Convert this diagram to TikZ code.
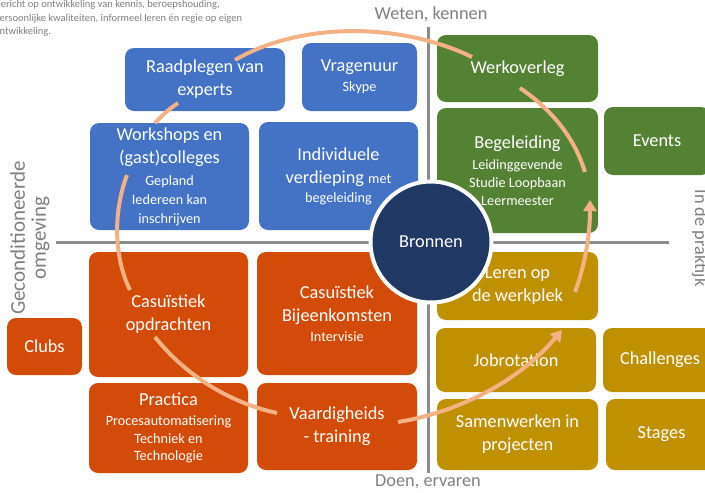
\documentclass[tikz,border=0pt]{standalone}
\usepackage{fontspec}
\setmainfont{Carlito}
\usetikzlibrary{arrows.meta}
\definecolor{cblue}{HTML}{4472C4}
\definecolor{cgreen}{HTML}{548235}
\definecolor{cgold}{HTML}{BF9000}
\definecolor{corange}{HTML}{D24B08}
\definecolor{cnavy}{HTML}{203864}
\definecolor{cpeach}{HTML}{F4B183}
\definecolor{cgray}{HTML}{7F7F7F}
\definecolor{caxis}{HTML}{8C8C8C}
\newcommand\mainf{\fontsize{18.3}{23}\selectfont}
\newcommand\subf{\fontsize{14.2}{18}\selectfont}
\begin{document}
\begin{tikzpicture}[x=1pt,y=-1pt,
  bx/.style={rounded corners=9pt, text=white, align=center, inner sep=0pt, font=\mainf},
  sz/.style 2 args={minimum width=#1pt, minimum height=#2pt},
  flow/.style={draw=cpeach, line width=4pt},
  tip/.style={-{Triangle[length=11pt,width=13pt]}},
  axl/.style={draw=caxis, line width=3pt},
  axt/.style={text=cgray, font=\mainf, inner sep=0pt}]
\useasboundingbox (0,0) rectangle (705,493);
% axes
\coordinate (hl) at (56,242); \coordinate (hr) at (669,242);
\coordinate (vt) at (428,27); \coordinate (vb) at (428,473);
\draw[axl] (hl) -- (hr);
\draw[axl] (vt) -- (vb);
% blue
\node[bx,fill=cblue,sz={160}{63}] (raad) at (205,79.5) {Raadplegen van\\experts};
\node[bx,fill=cblue,sz={115}{68}] (vrag) at (359.5,77) {Vragenuur\\[-3pt]{\subf Skype}};
\node[bx,fill=cblue,sz={159}{107}] (work) at (169.5,176.5) {Workshops en\\(gast)colleges\\[-1pt]{\subf Gepland}\\[-4pt]{\subf Iedereen kan}\\[-4pt]{\subf inschrijven}};
\node[bx,fill=cblue,sz={159}{108}] (indiv) at (338.5,176) {Individuele\\verdieping {\subf met}\\[-4pt]{\subf begeleiding}};
% green
\node[bx,fill=cgreen,sz={161}{67}] (werk) at (517.5,68.5) {Werkoverleg};
\node[bx,fill=cgreen,sz={161}{125}] (beg) at (517.5,170.5) {Begeleiding\\[-2pt]{\subf Leidinggevende}\\[-5pt]{\subf Studie Loopbaan}\\[-5pt]{\subf Leermeester}};
\node[bx,fill=cgreen,sz={106}{68}] (events) at (657,141) {Events};
% gold
\node[bx,fill=cgold,sz={161}{68}] (leren) at (517.5,286) {Leren op\\de werkplek};
\node[bx,fill=cgold,sz={160}{64}] (job) at (516,360) {Jobrotation};
\node[bx,fill=cgold,sz={114}{64}] (chall) at (660,360) {Challenges};
\node[bx,fill=cgold,sz={161}{71}] (samen) at (517.5,434.5) {Samenwerken in\\projecten};
\node[bx,fill=cgold,sz={111}{71}] (stages) at (661.5,434.5) {Stages};
% orange
\node[bx,fill=corange,sz={75}{57}] (clubs) at (44.5,346.5) {Clubs};
\node[bx,fill=corange,sz={159}{125}] (casop) at (168.5,314.5) {Casuïstiek\\opdrachten};
\node[bx,fill=corange,sz={160}{123}] (casbij) at (337,313.5) {Casuïstiek\\Bijeenkomsten\\[-3pt]{\subf Intervisie}};
\node[bx,fill=corange,sz={159}{90}] (pract) at (168.5,428) {Practica\\[-3pt]{\subf Procesautomatisering}\\[-5pt]{\subf Techniek en}\\[-6pt]{\subf Technologie}};
\node[bx,fill=corange,sz={160}{87}] (vaard) at (337,426.5) {Vaardigheids\\- training};
% centre
\node[circle, fill=cnavy, draw=white, line width=4pt, minimum size=121pt, inner sep=0pt, text=white, font=\mainf] (bron) at (431,242) {Bronnen};
% flow loop
\coordinate (a1) at (398,422); \coordinate (a2) at (562,330);
\coordinate (b1) at (575,292); \coordinate (b2) at (590,200);
\coordinate (c1) at (585,172); \coordinate (c2) at (520,88);
\coordinate (d1) at (472,57);  \coordinate (d2) at (235,60);
\coordinate (e1) at (178,103); \coordinate (e2) at (155,123);
\coordinate (f1) at (127,175); \coordinate (f2) at (130,290);
\coordinate (g1) at (155,337); \coordinate (g2) at (277,413);
\draw[flow,tip] (a1) .. controls (460,412) and (520,380) .. (a2);
\draw[flow,tip] (b1) .. controls (585,265) and (590,235) .. (b2);
\draw[flow] (c1) .. controls (575,140) and (555,112) .. (c2);
\draw[flow] (d1) .. controls (400,22) and (300,22) .. (d2);
\draw[flow] (e1) .. controls (168,110) .. (e2);
\draw[flow] (f1) .. controls (112,215) and (115,260) .. (f2);
\draw[flow] (g1) .. controls (185,375) and (230,403) .. (g2);
% axis labels
\node[axt] (weten) at (431,14) {Weten, kennen};
\node[axt] (doen) at (428,482) {Doen, ervaren};
\node[axt, rotate=90, align=center, font=\fontsize{21}{21}\selectfont] (geco) at (30,238) {Geconditioneerde\\omgeving};
\node[axt, rotate=-90, anchor=base] (prak) at (695,238) {In de praktijk};
\node[anchor=north west, inner sep=0pt, align=left, text=cgray, font=\fontsize{10.5}{13.3}\selectfont] (intro) at (-6,0.5) {Gericht op ontwikkeling van kennis, beroepshouding,\\persoonlijke kwaliteiten, informeel leren én regie op eigen\\ontwikkeling.};
\end{tikzpicture}
\end{document}
